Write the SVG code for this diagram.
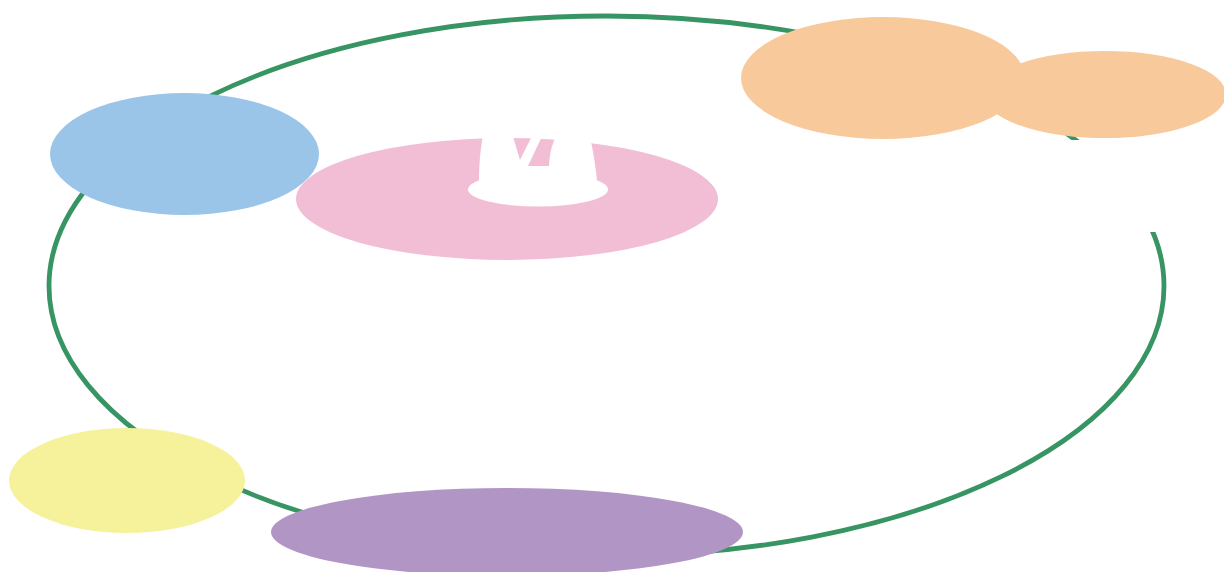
<svg xmlns="http://www.w3.org/2000/svg" width="1224" height="572" viewBox="0 0 1224 572">
<style>
.ring{fill:none;stroke:#379463;stroke-width:4.8}
.blue{fill:#9ac4e8}
.pink{fill:#f2bed6}
.orange{fill:#f8c99b}
.yellow{fill:#f6f29b}
.purple{fill:#b196c5}
.white{fill:#ffffff}
</style>
<defs>
<clipPath id="pinkClip"><ellipse cx="507" cy="199" rx="211" ry="61"/></clipPath>
</defs>
<rect width="1224" height="572" fill="#ffffff"/>
<g id="connectors">
<ellipse class="ring" cx="606.5" cy="286" rx="557.5" ry="270"/>
<rect class="white" x="1000" y="140" width="224" height="92"/>
</g>
<g id="node-blue"><ellipse class="blue" cx="184.5" cy="154" rx="134.5" ry="61"/></g>
<g id="node-pink">
<ellipse class="pink" cx="507" cy="199" rx="211" ry="61"/>
<path class="white" d="M479,180 C479,160 481,140 488,112 L580,112 C588,125 593,145 597,180 Z"/>
<g clip-path="url(#pinkClip)">
<polygon class="pink" points="511,130 535,130 520,160"/>
<path class="pink" d="M545,130 L560,130 C553,140 550,150 549,166 L528,166 Z"/>
</g>
<ellipse class="white" cx="538" cy="189.5" rx="70" ry="17"/>
</g>
<g id="node-orange-1"><ellipse class="orange" cx="883" cy="78" rx="142" ry="61"/></g>
<g id="node-orange-2"><ellipse class="orange" cx="1105" cy="94.5" rx="121" ry="43.5"/></g>
<g id="node-yellow"><ellipse class="yellow" cx="127" cy="480.5" rx="118" ry="52.5"/></g>
<g id="node-purple"><ellipse class="purple" cx="507" cy="532" rx="236" ry="44"/></g>
</svg>
